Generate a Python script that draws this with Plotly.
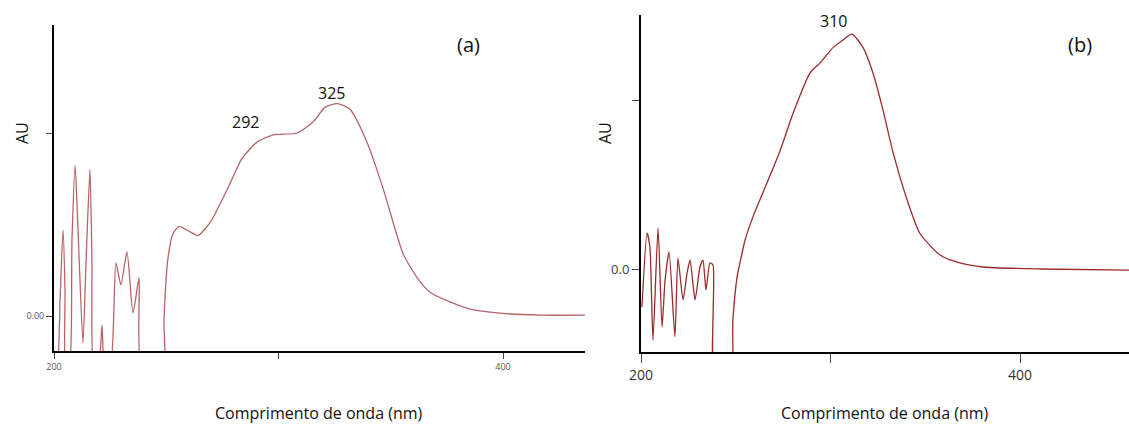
import plotly.graph_objects as go

# ---- Panel (a) data: wavelength (nm) and absorbance (AU) ----
wl_a = [200.4, 201.3, 202.7, 204.0, 204.9, 205.3, 206.7, 208.0, 209.4, 210.7, 212.9,
        214.3, 216.0, 216.9, 217.8, 219.6, 221.4, 222.7,
        224.9, 227.6, 229.8, 232.5, 235.2, 237.9, 239.2, 248.6,
        249.0, 250.8, 253.0, 255.7, 260.6, 264.1, 269.5, 277.1, 283.7, 290.4, 297.6,
        308.2, 315.4, 320.7, 326.1, 331.8, 339.4, 346.5, 355.5, 361.7, 367.5, 376.4,
        385.3, 398.7, 416.5, 436.5]
au_a = [-0.30, -0.30, 0.087, 0.47, 0.14, -0.30, -0.30, 0.415, 0.825, 0.47, -0.148,
        0.306, 0.80, 0.306, -0.30, -0.30, -0.05, -0.30,
        -0.30, 0.29, 0.17, 0.35, 0.016, 0.21, -0.30, -0.30,
        -0.022, 0.32, 0.45, 0.49, 0.46, 0.44, 0.51, 0.69, 0.86, 0.95, 0.99,
        1.00, 1.06, 1.14, 1.16, 1.13, 0.95, 0.70, 0.34, 0.21, 0.13, 0.077,
        0.038, 0.016, 0.005, 0.005]

# ---- Panel (b) data ----
wl_b = [200.5, 203.2, 204.7, 206.3, 209.0, 211.1, 212.7, 214.8, 217.9, 219.5, 222.2,
        224.3, 225.9, 228.5, 231.1, 232.7, 234.3, 236.4, 238.0, 239.1, 247.0,
        248.5, 250.7, 252.2, 254.9, 259.1, 266.5, 273.4, 280.2, 289.2, 294.5, 301.3,
        306.6, 311.3, 317.2, 322.4, 327.7, 333.0, 340.4, 347.2, 357.8, 368.3, 380.5,
        410.6, 457.5]
au_b = [-0.225, 0.213, 0.13, -0.42, 0.243, -0.343, -0.065, 0.10, -0.40, 0.065, -0.183,
        -0.024, 0.053, -0.183, 0.012, 0.053, -0.124, 0.036, 0.024, -0.70, -0.70,
        -0.30, -0.047, 0.036, 0.17, 0.31, 0.51, 0.70, 0.92, 1.16, 1.22, 1.31,
        1.355, 1.39, 1.31, 1.16, 0.94, 0.69, 0.41, 0.21, 0.083, 0.036, 0.012,
        0.0, -0.006]

x_ticks = [200, 300, 400]
x_ticktext = ["200", "", "400"]
y_ticks = [0, 1]
y_ticktext_a = ["0.00", ""]
y_ticktext_b = ["0.0", ""]

peaks_a = [(285.5, 1.06, "292"), (323.8, 1.22, "325")]
peaks_b = [(301.8, 1.47, "310")]

W, H = 1129, 426
FONT = "Open Sans"

fig = go.Figure()
fig.add_trace(go.Scatter(x=wl_a, y=au_a, mode="lines", xaxis="x", yaxis="y",
                         line=dict(color="#b86464", width=1.3, shape="spline", smoothing=0.6),
                         showlegend=False))
fig.add_trace(go.Scatter(x=wl_b, y=au_b, mode="lines", xaxis="x2", yaxis="y2",
                         line=dict(color="#9a2b2b", width=1.3, shape="spline", smoothing=0.6),
                         showlegend=False))

def px_x(p):
    return p / W

def px_y(p):
    return 1 - p / H

axis_common = dict(showline=True, linecolor="black", linewidth=2, showgrid=False,
                   zeroline=False, ticks="outside", tickcolor="#444", tickwidth=1,
                   automargin=False)

fig.update_layout(
    width=W, height=H,
    margin=dict(l=0, r=0, t=0, b=0, pad=0),
    plot_bgcolor="white", paper_bgcolor="white",
    font=dict(family=FONT, color="#333"),
    xaxis=dict(domain=[px_x(54), px_x(585)], range=[200, 436.5], anchor="y",
               tickvals=x_ticks, ticktext=x_ticktext, ticklen=6,
               tickfont=dict(size=9, color="#555"), **axis_common),
    yaxis=dict(domain=[px_y(351), px_y(25)], range=[-0.191, 1.590], anchor="x",
               tickvals=y_ticks, ticktext=y_ticktext_a, ticklen=6,
               tickfont=dict(size=9, color="#555"), **axis_common),
    xaxis2=dict(domain=[px_x(641), 1.0], range=[200, 457.5], anchor="y2",
                tickvals=x_ticks, ticktext=x_ticktext, ticklen=9,
                tickfont=dict(size=14, color="#333"), **axis_common),
    yaxis2=dict(domain=[px_y(352), px_y(15)], range=[-0.491, 1.503], anchor="x2",
                tickvals=y_ticks, ticktext=y_ticktext_b, ticklen=7,
                tickfont=dict(size=13, color="#444"), **axis_common),
)

ann = []
for x, y, t in peaks_a:
    ann.append(dict(x=x, y=y, xref="x", yref="y", text=t, showarrow=False,
                    font=dict(size=16, color="#111")))
for x, y, t in peaks_b:
    ann.append(dict(x=x, y=y, xref="x2", yref="y2", text=t, showarrow=False,
                    font=dict(size=16, color="#111")))
for xp, yp, t in [(468, 45, "(a)"), (1080, 45, "(b)")]:
    ann.append(dict(x=px_x(xp), y=px_y(yp), xref="paper", yref="paper", text=t,
                    xanchor="center", yanchor="middle",
                    showarrow=False, font=dict(size=20, color="#111")))
for xp, yp in [(22, 133), (605, 133)]:
    ann.append(dict(x=px_x(xp), y=px_y(yp), xref="paper", yref="paper", text="AU",
                    xanchor="center", yanchor="middle",
                    textangle=-90, showarrow=False, font=dict(size=16, color="#111")))
for xp in [319.5, 885]:
    ann.append(dict(x=px_x(xp), y=px_y(413), xref="paper", yref="paper",
                    xanchor="center", yanchor="middle",
                    text="Comprimento de onda (nm)", showarrow=False,
                    font=dict(size=16, color="#111")))
fig.update_layout(annotations=ann)

fig.write_html("out.html")
